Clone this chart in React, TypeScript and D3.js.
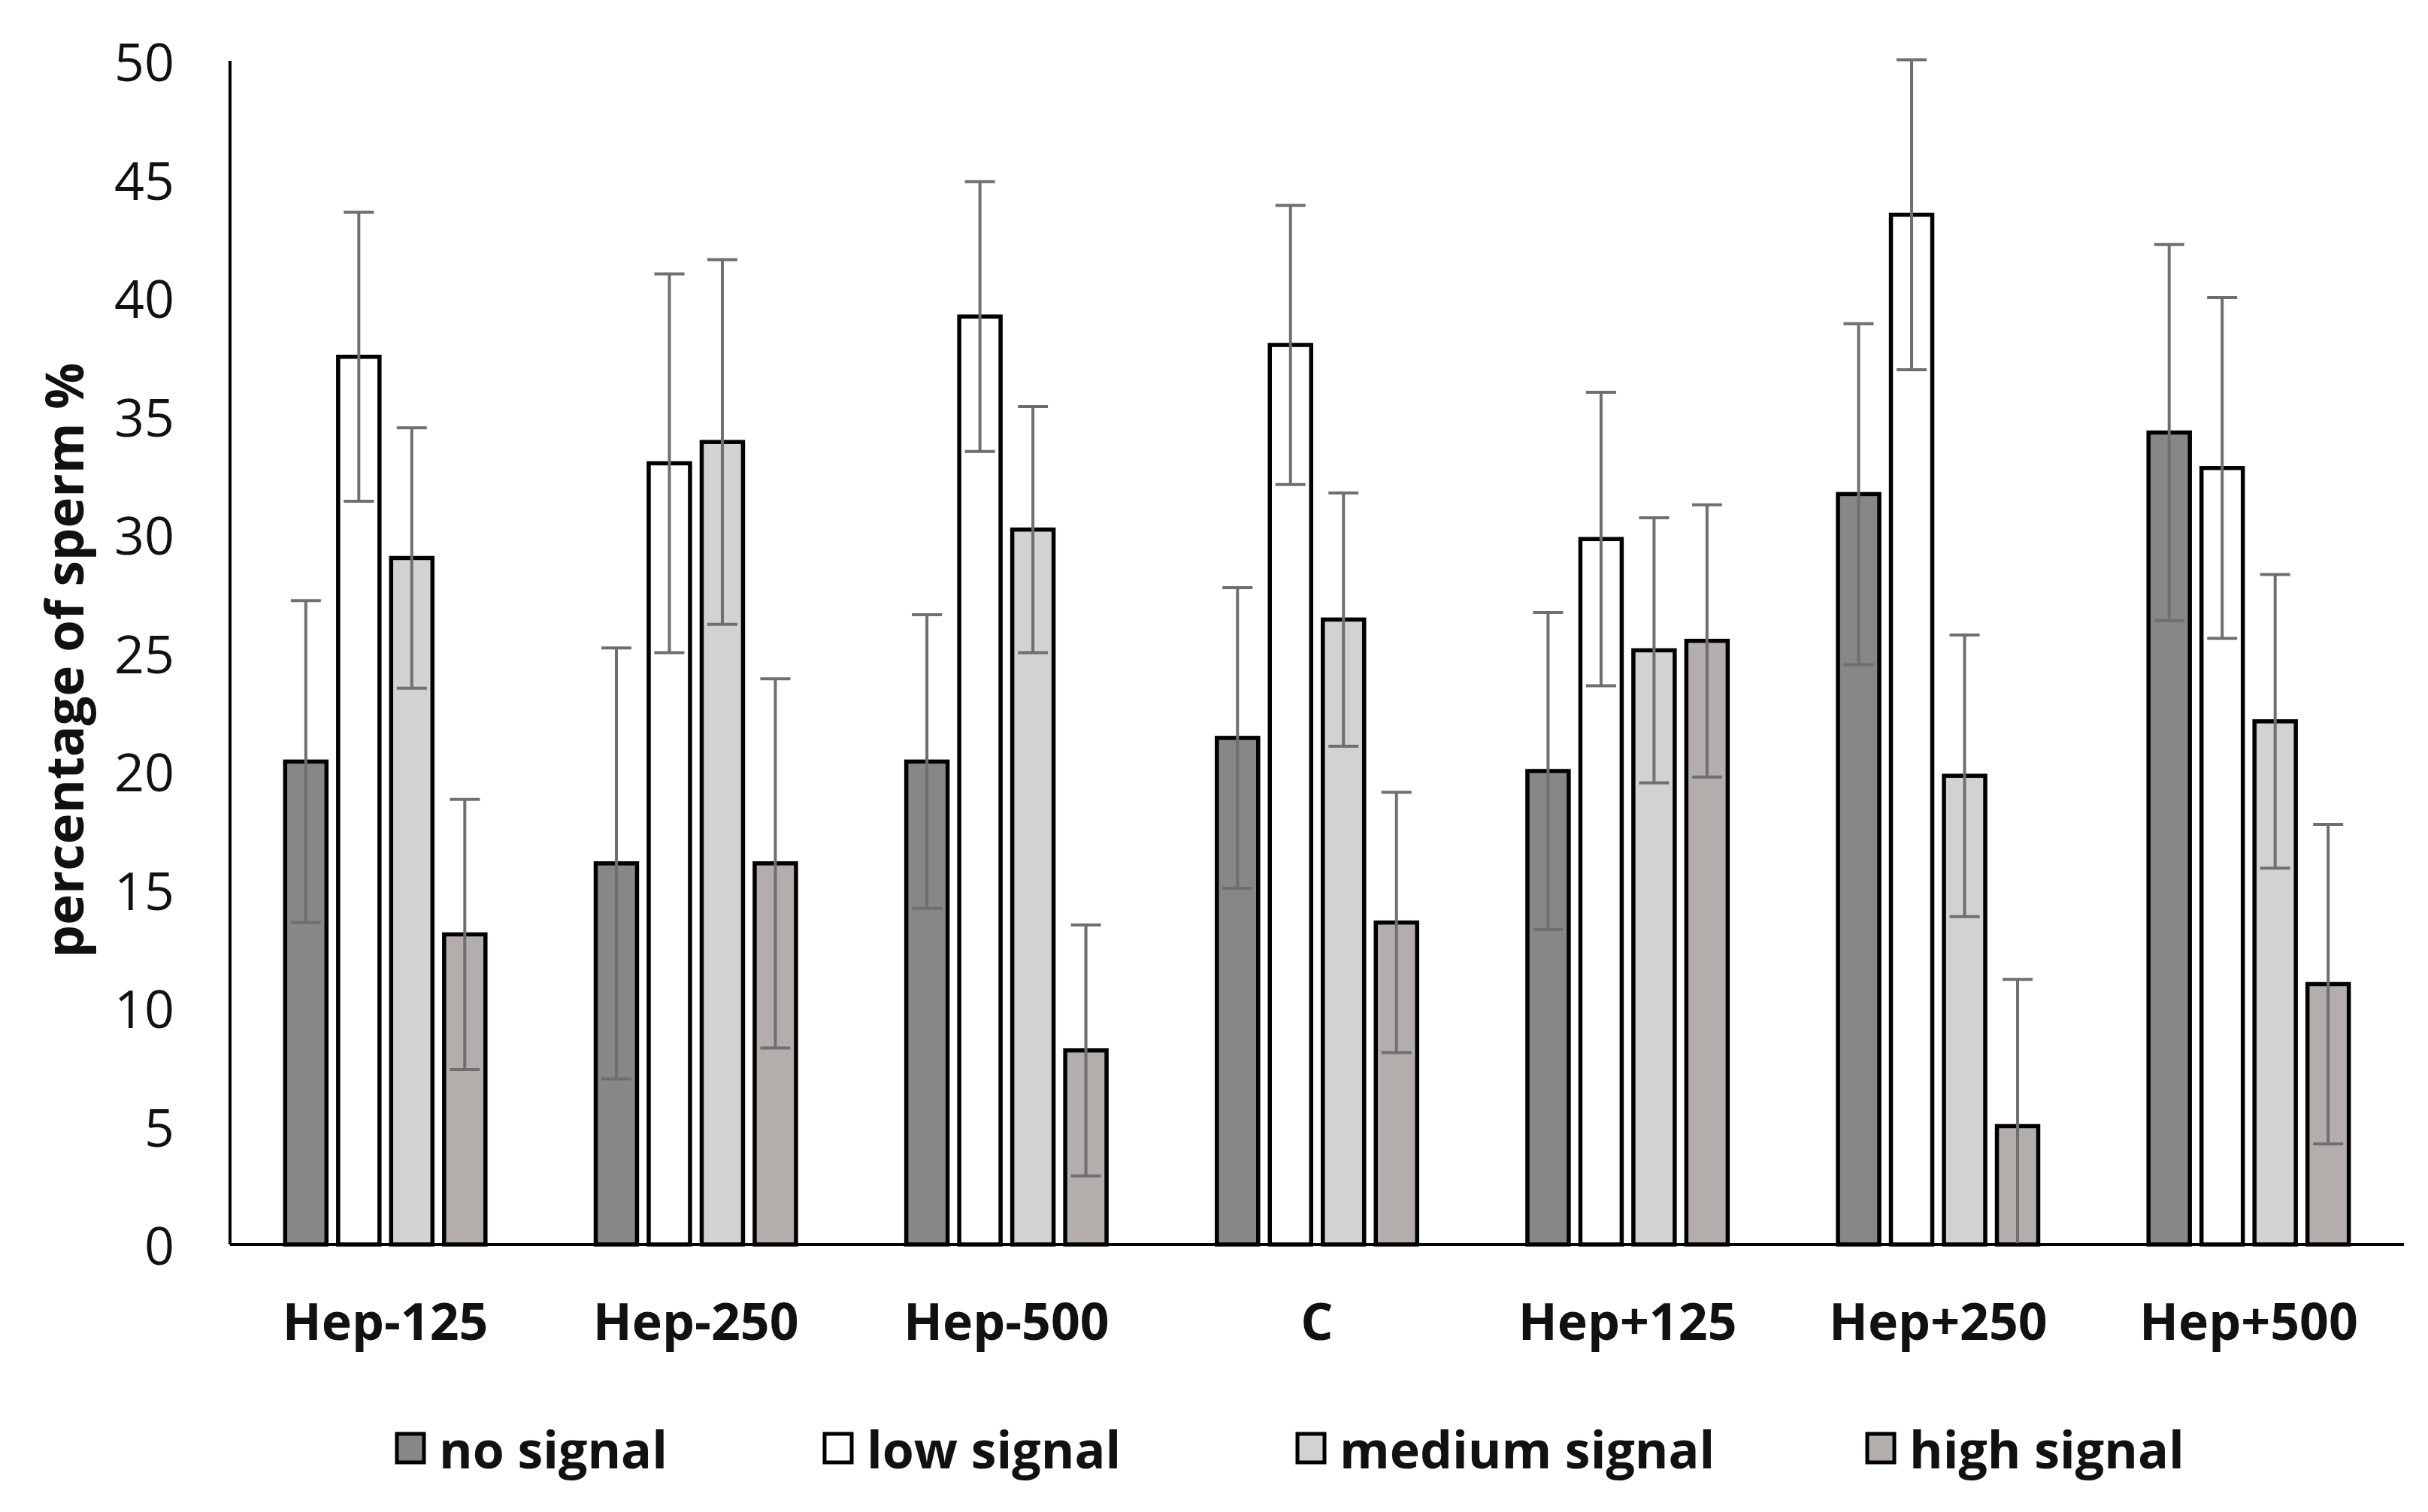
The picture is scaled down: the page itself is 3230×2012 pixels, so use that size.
import React, { useEffect, useRef } from 'react';
import * as d3 from 'd3';

const categories = ['Hep-125', 'Hep-250', 'Hep-500', 'C', 'Hep+125', 'Hep+250', 'Hep+500'];
const seriesNames = ['no signal', 'low signal', 'medium signal', 'high signal'];
const seriesColors = ['#878787', '#ffffff', '#d4d1d1', '#b3aeab'];

// means per series, in category order
const noSignal = [20.4, 16.1, 20.4, 21.4, 20.0, 31.7, 34.3];
const lowSignal = [37.5, 33.0, 39.2, 38.0, 29.8, 43.5, 32.8];
const mediumSignal = [29.0, 33.9, 30.2, 26.4, 25.1, 19.8, 22.1];
const highSignal = [13.1, 16.1, 8.2, 13.6, 25.5, 5.0, 11.0];

// +/- error per series
const noSignalErr = [6.8, 9.1, 6.2, 6.35, 6.7, 7.2, 7.95];
const lowSignalErr = [6.1, 8.0, 5.7, 5.9, 6.2, 6.55, 7.2];
const mediumSignalErr = [5.5, 7.7, 5.2, 5.35, 5.6, 5.95, 6.2];
const highSignalErr = [5.7, 7.8, 5.3, 5.5, 5.75, 6.2, 6.75];

const yTicks = [0, 5, 10, 15, 20, 25, 30, 35, 40, 45, 50];

function App() {
  const svgRef = useRef(null);
  const width = 3230;
  const height = 2012;

  useEffect(() => {
    if (!svgRef.current) return;
    const svg = d3.select(svgRef.current);
    svg.selectAll('*').remove();

    const left = 306, right = 3198, top = 81, bottom = 1656;
    const font = "'Open Sans', 'DejaVu Sans', sans-serif";

    const x = d3.scaleBand().domain(categories).range([left, right]).padding(0);
    const y = d3.scaleLinear().domain([0, 50]).range([bottom, top]);
    const sub = d3.scaleBand().domain(seriesNames)
      .range([-x.bandwidth() * 0.36, x.bandwidth() * 0.36]).padding(0.22);

    const values = [noSignal, lowSignal, mediumSignal, highSignal];
    const errs = [noSignalErr, lowSignalErr, mediumSignalErr, highSignalErr];

    // y tick labels
    svg.append('g').selectAll('text').data(yTicks).enter().append('text')
      .attr('x', 232).attr('y', d => y(d))
      .attr('text-anchor', 'end').attr('dominant-baseline', 'central')
      .attr('font-family', font).attr('font-size', 70).attr('fill', '#111')
      .text(d => d);

    // bars
    seriesNames.forEach((s, si) => {
      const g = svg.append('g');
      categories.forEach((c, ci) => {
        const bx = x(c) + x.bandwidth() / 2 + sub(s);
        const v = values[si][ci];
        g.append('rect')
          .attr('x', bx).attr('y', y(v))
          .attr('width', sub.bandwidth()).attr('height', y(0) - y(v))
          .attr('fill', seriesColors[si]).attr('stroke', '#000').attr('stroke-width', 5.5);
      });
    });
    // error bars
    seriesNames.forEach((s, si) => {
      const g = svg.append('g');
      categories.forEach((c, ci) => {
        const ex = x(c) + x.bandwidth() / 2 + sub(s) + sub.bandwidth() / 2;
        const v = values[si][ci];
        const e = errs[si][ci];
        const hi = y(v + e);
        const lo = y(Math.max(0, v - e));
        g.append('line').attr('x1', ex).attr('x2', ex).attr('y1', hi).attr('y2', lo)
          .attr('stroke', '#6f6f6f').attr('stroke-width', 4);
        g.append('line').attr('x1', ex - 20).attr('x2', ex + 20).attr('y1', hi).attr('y2', hi)
          .attr('stroke', '#6f6f6f').attr('stroke-width', 4);
        if (v - e > 0) {
          g.append('line').attr('x1', ex - 20).attr('x2', ex + 20).attr('y1', lo).attr('y2', lo)
            .attr('stroke', '#6f6f6f').attr('stroke-width', 4);
        }
      });
    });

    // axis lines
    svg.append('line').attr('x1', left).attr('x2', left).attr('y1', top).attr('y2', bottom)
      .attr('stroke', '#000').attr('stroke-width', 4);
    svg.append('line').attr('x1', left).attr('x2', right).attr('y1', bottom).attr('y2', bottom)
      .attr('stroke', '#000').attr('stroke-width', 4);

    // category labels
    svg.append('g').selectAll('text').data(categories).enter().append('text')
      .attr('x', d => x(d) + x.bandwidth() / 2).attr('y', 1756)
      .attr('text-anchor', 'middle').attr('dominant-baseline', 'central')
      .attr('font-family', font).attr('font-weight', 'bold').attr('font-size', 68)
      .attr('fill', '#111').text(d => d);

    // y axis title
    svg.append('text')
      .attr('transform', `translate(84,${(bottom + top) / 2 + 10}) rotate(-90)`)
      .attr('text-anchor', 'middle').attr('dominant-baseline', 'central')
      .attr('font-family', font).attr('font-weight', 'bold').attr('font-size', 69)
      .attr('fill', '#111').text('percentage of sperm %');

    // legend
    const legendX = [528, 1097, 1726, 2484];
    const legend = svg.append('g');
    seriesNames.forEach((s, i) => {
      legend.append('rect')
        .attr('x', legendX[i]).attr('y', 1908).attr('width', 36).attr('height', 38)
        .attr('fill', seriesColors[i]).attr('stroke', '#000').attr('stroke-width', 5);
      legend.append('text')
        .attr('x', legendX[i] + 56).attr('y', 1927)
        .attr('dominant-baseline', 'central')
        .attr('font-family', font).attr('font-weight', 'bold').attr('font-size', 68)
        .attr('fill', '#111').text(s);
    });
  }, []);

  return (
    <svg ref={svgRef} width={width} height={height}
      style={{ position: 'absolute', left: 0, top: 0, background: '#fff' }} />
  );
}

export default App;
